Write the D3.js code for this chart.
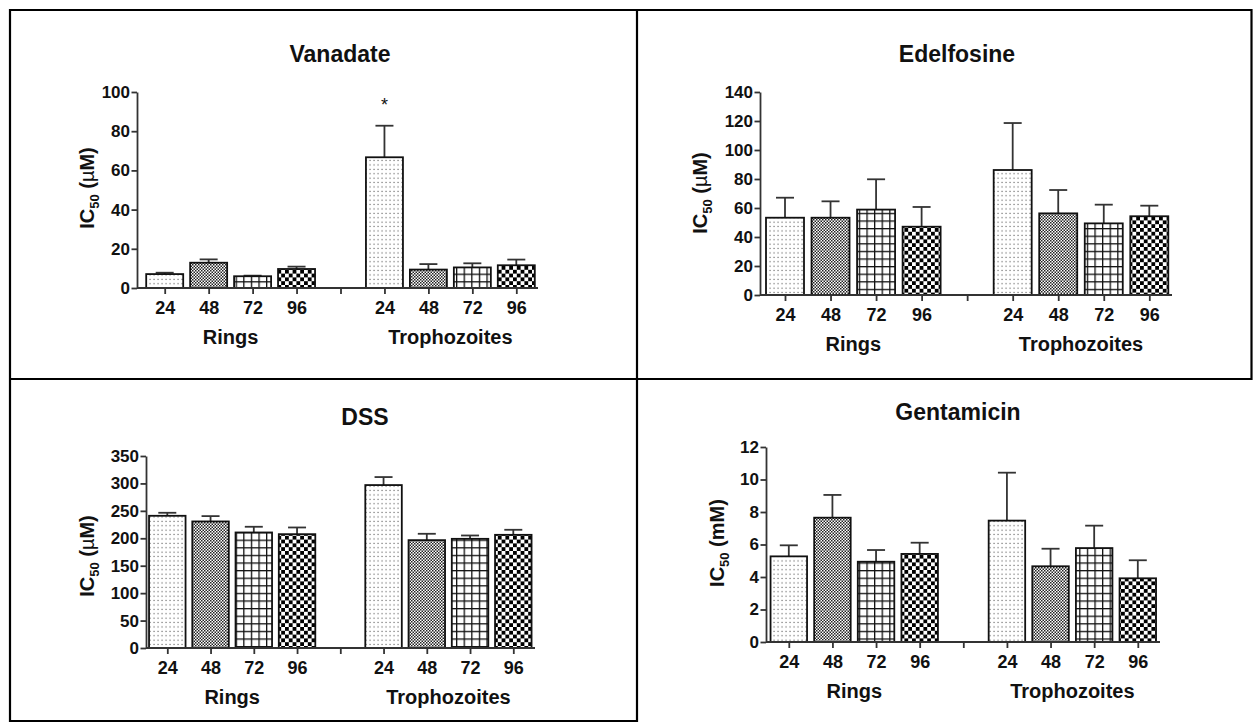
<!DOCTYPE html>
<html>
<head>
<meta charset="utf-8">
<script src="https://cdn.jsdelivr.net/npm/d3@7"></script>
<style>
  body { margin: 0; background: #fff; }
  svg text { font-family: "Liberation Sans", Arial, sans-serif; font-weight: bold; fill: #111; }
</style>
</head>
<body>
<svg id="chart" width="1254" height="728"></svg>
<script>
// Incubation times (h) and parasite stages
const hours = ["24", "48", "72", "96"];
const stages = ["Rings", "Trophozoites"];

// IC50 means and upper error (SD) — first four Rings, last four Trophozoites
const vanadateMean = [7.1, 12.9, 6.0, 9.7, 66.7, 9.4, 10.5, 11.6];
const vanadateErr = [0.7, 1.7, 0.3, 1.2, 16.1, 2.8, 2.1, 2.9];
const vanadateMarks = ["", "", "", "", "*", "", "", ""];

const edelfosineMean = [53.3, 53.3, 58.9, 47.1, 86.2, 56.3, 49.4, 54.3];
const edelfosineErr = [13.8, 11.3, 20.9, 13.6, 32.4, 16.1, 12.9, 7.3];

const dssMean = [241, 230.7, 210.6, 207.5, 297, 196.6, 199, 206.3];
const dssErr = [5.5, 9.7, 10.4, 12.2, 14.6, 11.6, 6.1, 9.2];

const gentamicinMean = [5.27, 7.65, 4.94, 5.42, 7.47, 4.66, 5.78, 3.92];
const gentamicinErr = [0.68, 1.40, 0.72, 0.69, 2.95, 1.08, 1.38, 1.11];

// Y tick values
const vanadateTicks = [0, 20, 40, 60, 80, 100];
const edelfosineTicks = [0, 20, 40, 60, 80, 100, 120, 140];
const dssTicks = [0, 50, 100, 150, 200, 250, 300, 350];
const gentamicinTicks = [0, 2, 4, 6, 8, 10, 12];

// Slot keys along the x axis: four Rings bars, a spacer, four Trophozoite bars
const slotKeys = [
  ...hours.map(h => stages[0] + h),
  "gap",
  ...hours.map(h => stages[1] + h)
];

// Panel layout (pixel geometry of each cell of the figure)
const panels = [
  { title: "Vanadate", unit: "\u00b5M", mean: vanadateMean, err: vanadateErr, ticks: vanadateTicks, marks: vanadateMarks,
    axisX: 137, axisEnd: 538, base: 288, top: 92, first: 164.7, last: 516.3, barW: 37,
    titleX: 340, titleY: 62, labelX: 94, labelY: 188 },
  { title: "Edelfosine", unit: "\u00b5M", mean: edelfosineMean, err: edelfosineErr, ticks: edelfosineTicks, marks: null,
    axisX: 760, axisEnd: 1172, base: 295, top: 92, first: 785, last: 1149.3, barW: 38,
    titleX: 957, titleY: 62, labelX: 707, labelY: 193 },
  { title: "DSS", unit: "\u00b5M", mean: dssMean, err: dssErr, ticks: dssTicks, marks: null,
    axisX: 146, axisEnd: 535, base: 648, top: 456, first: 167.3, last: 513.3, barW: 36.5,
    titleX: 365, titleY: 425, labelX: 93.5, labelY: 556 },
  { title: "Gentamicin", unit: "mM", mean: gentamicinMean, err: gentamicinErr, ticks: gentamicinTicks, marks: null,
    axisX: 766, axisEnd: 1160, base: 642, top: 447, first: 788.8, last: 1137.8, barW: 36.5,
    titleX: 958, titleY: 420, labelX: 723.5, labelY: 543 }
];

const svg = d3.select("#chart");

// Fill patterns, one per incubation time
const defs = svg.append("defs");

const pDots = defs.append("pattern").attr("id", "fill24")
  .attr("patternUnits", "userSpaceOnUse").attr("width", 4).attr("height", 4.4);
pDots.append("rect").attr("width", 4).attr("height", 4.4).attr("fill", "#fff");
pDots.append("rect").attr("x", 1.5).attr("y", 1.6).attr("width", 1.1).attr("height", 1.1).attr("fill", "#555");

const pFine = defs.append("pattern").attr("id", "fill48")
  .attr("patternUnits", "userSpaceOnUse").attr("width", 3).attr("height", 3);
pFine.append("rect").attr("width", 3).attr("height", 3).attr("fill", "#fff");
pFine.append("rect").attr("width", 1.5).attr("height", 1.5).attr("fill", "#222");
pFine.append("rect").attr("x", 1.5).attr("y", 1.5).attr("width", 1.5).attr("height", 1.5).attr("fill", "#222");

const pGrid = defs.append("pattern").attr("id", "fill72")
  .attr("patternUnits", "userSpaceOnUse").attr("width", 7.6).attr("height", 7.6);
pGrid.append("rect").attr("width", 7.6).attr("height", 7.6).attr("fill", "#fff");
pGrid.append("rect").attr("width", 7.6).attr("height", 1.3).attr("fill", "#111");
pGrid.append("rect").attr("width", 1.3).attr("height", 7.6).attr("fill", "#111");

const pCheck = defs.append("pattern").attr("id", "fill96")
  .attr("patternUnits", "userSpaceOnUse").attr("width", 7.6).attr("height", 7.6);
pCheck.append("rect").attr("width", 7.6).attr("height", 7.6).attr("fill", "#fff");
pCheck.append("rect").attr("width", 3.8).attr("height", 3.8).attr("fill", "#000");
pCheck.append("rect").attr("x", 3.8).attr("y", 3.8).attr("width", 3.8).attr("height", 3.8).attr("fill", "#000");

const fillFor = i => "url(#fill" + hours[i % 4] + ")";

// Table frame around the four figure cells
const frame = svg.append("g").attr("stroke", "#000").attr("stroke-width", 2.2);
[
  [9, 10, 1252, 10],
  [10, 9, 10, 722],
  [637, 9, 637, 722],
  [9, 379, 1252, 379],
  [1251.5, 9, 1251.5, 380],
  [9, 721, 637, 721]
].forEach(([x1, y1, x2, y2]) =>
  frame.append("line").attr("x1", x1).attr("y1", y1).attr("x2", x2).attr("y2", y2));

panels.forEach(p => {
  const g = svg.append("g");
  const yMax = p.ticks[p.ticks.length - 1];
  const y = d3.scaleLinear().domain([0, yMax]).range([p.base, p.top]);
  const x = d3.scalePoint().domain(slotKeys).range([p.first, p.last]);

  const rows = p.mean.map((m, i) => ({
    key: stages[i < 4 ? 0 : 1] + hours[i % 4],
    idx: i, mean: m, err: p.err[i], mark: p.marks ? p.marks[i] : ""
  }));

  // Title
  g.append("text").attr("x", p.titleX).attr("y", p.titleY)
    .attr("text-anchor", "middle").style("font-size", "23px").text(p.title);

  // Error bars (upper only)
  const eb = g.append("g").attr("stroke", "#333").attr("stroke-width", 1.8);
  rows.forEach(r => {
    const cx = x(r.key);
    eb.append("line").attr("x1", cx).attr("x2", cx).attr("y1", y(r.mean)).attr("y2", y(r.mean + r.err));
    eb.append("line").attr("x1", cx - 9).attr("x2", cx + 9).attr("y1", y(r.mean + r.err)).attr("y2", y(r.mean + r.err));
  });

  // Bars
  g.append("g").selectAll("rect").data(rows).join("rect")
    .attr("x", r => x(r.key) - p.barW / 2)
    .attr("width", p.barW)
    .attr("y", r => y(r.mean))
    .attr("height", r => y(0) - y(r.mean))
    .attr("fill", r => fillFor(r.idx))
    .attr("stroke", "#111").attr("stroke-width", 1.8);

  // Significance marks
  g.append("g").selectAll("text").data(rows.filter(r => r.mark)).join("text")
    .attr("x", r => x(r.key)).attr("y", r => y(r.mean + r.err) - 15)
    .attr("text-anchor", "middle").style("font-size", "18px").style("font-weight", "normal")
    .text(r => r.mark);

  // Y axis
  const yAxis = g.append("g").attr("transform", `translate(${p.axisX},0)`)
    .call(d3.axisLeft(y).tickValues(p.ticks).tickSize(5.5).tickPadding(1.5).tickSizeOuter(0));
  yAxis.select(".domain").attr("stroke", "#333").attr("stroke-width", 1.8);
  yAxis.selectAll(".tick line").attr("stroke", "#333").attr("stroke-width", 1.8);
  yAxis.selectAll(".tick text").style("font-size", "17px")
    .style("font-family", "'Liberation Sans', Arial, sans-serif").style("font-weight", "bold").attr("fill", "#111");

  // X axis: baseline across the whole plot, ticks at every slot
  g.append("line").attr("x1", p.axisX).attr("x2", p.axisEnd).attr("y1", p.base).attr("y2", p.base)
    .attr("stroke", "#333").attr("stroke-width", 1.8);
  const xAxis = g.append("g").attr("transform", `translate(0,${p.base})`)
    .call(d3.axisBottom(x).tickSize(6).tickPadding(7.5)
      .tickFormat(k => k === "gap" ? "" : k.slice(-2)));
  xAxis.select(".domain").remove();
  xAxis.selectAll(".tick line").attr("stroke", "#333").attr("stroke-width", 1.8);
  xAxis.selectAll(".tick text").style("font-size", "18px")
    .style("font-family", "'Liberation Sans', Arial, sans-serif").style("font-weight", "bold").attr("fill", "#111");

  // Stage labels under each group
  stages.forEach(s => {
    const a = x(s + hours[0]), b = x(s + hours[3]);
    g.append("text").attr("x", (a + b) / 2).attr("y", p.base + 56)
      .attr("text-anchor", "middle").style("font-size", "20px").text(s);
  });

  // Y axis title: IC50 (unit)
  const yl = g.append("text")
    .attr("transform", `translate(${p.labelX},${p.labelY}) rotate(-90)`)
    .attr("text-anchor", "middle").style("font-size", "20px");
  yl.append("tspan").text("IC");
  yl.append("tspan").attr("dy", 5).style("font-size", "13px").text("50");
  yl.append("tspan").attr("dy", -5).text(" (");
  yl.append("tspan").style("font-weight", p.unit.startsWith("\u00b5") ? "normal" : "bold").text(p.unit.slice(0, p.unit.length - 1));
  yl.append("tspan").text(p.unit.slice(-1) + ")");
});
</script>
</body>
</html>
